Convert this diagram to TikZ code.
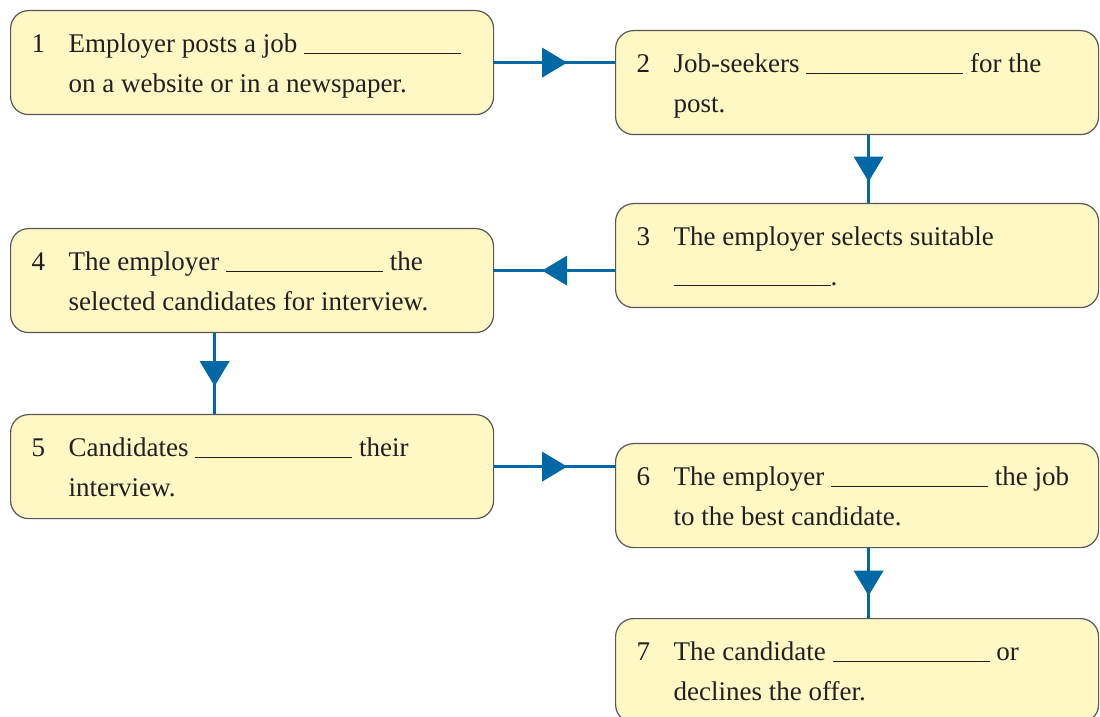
\documentclass[tikz,border=0pt]{standalone}
\usepackage{fontspec}
\setmainfont{Liberation Serif}
\usetikzlibrary{decorations.markings}
\definecolor{jobblue}{RGB}{0,105,165}
\definecolor{jobfill}{RGB}{255,248,196}
\definecolor{jobedge}{RGB}{88,88,88}
\definecolor{jobtext}{RGB}{35,31,32}
\newcommand{\blank}{\rule[-0.6pt]{78.5pt}{0.6pt}}
\newcommand{\stagehead}[2]{\rule{0pt}{21pt}\makebox[29pt][l]{\hspace{10.5pt}#1}#2}
\newcommand{\stagetail}[1]{\hspace*{29pt}#1\rule[-11.25pt]{0pt}{11.25pt}}

\begin{document}
\begin{tikzpicture}[x=0.5pt,y=-0.5pt,
    stage/.style={draw=jobedge,line width=0.6pt,fill=jobfill,rounded corners=9pt,
      anchor=north west,inner xsep=0pt,inner ysep=0pt,text width=241.5pt,
      minimum height=52pt,align=flush left,text=jobtext,
      font=\fontsize{13.5pt}{19.75pt}\selectfont},
    flow/.style={draw=jobblue,line width=1.5pt,postaction={decorate},
      decoration={markings,mark=at position 0.5 with
        {\fill[jobblue] (-6.25pt,-7.5pt) -- (6.25pt,0pt) -- (-6.25pt,7.5pt) -- cycle;}}}]
  \clip (0,0) rectangle (1100,717);
  \fill[white] (0,0) rectangle (1100,717);
  % left column: 1, 4, 5 -- right column: 2, 3, 6, 7
  \node[stage] (s1) at (10,10) {\stagehead{1}{Employer posts a job \blank}\\\stagetail{on a website or in a newspaper.}};
  \node[stage] (s2) at (615,30) {\stagehead{2}{Job-seekers \blank\ for the}\\\stagetail{post.}};
  \node[stage] (s3) at (615,203) {\stagehead{3}{The employer selects suitable}\\\stagetail{\blank.}};
  \node[stage] (s4) at (10,228) {\stagehead{4}{The employer \blank\ the}\\\stagetail{selected candidates for interview.}};
  \node[stage] (s5) at (10,414) {\stagehead{5}{Candidates \blank\ their}\\\stagetail{interview.}};
  \node[stage] (s6) at (615,443) {\stagehead{6}{The employer \blank\ the job}\\\stagetail{to the best candidate.}};
  \node[stage] (s7) at (615,618) {\stagehead{7}{The candidate \blank\ or}\\\stagetail{declines the offer.}};
  \draw[flow] (s1.east) -- (s1.east -| s2.west);
  \draw[flow] ([xshift=5.75pt]s2.south) -- ([xshift=5.75pt]s2.south |- s3.north);
  \draw[flow] ([yshift=-7.5pt]s3.west) -- ([yshift=-7.5pt]s3.west -| s4.east);
  \draw[flow] ([xshift=-18.75pt]s4.south) -- ([xshift=-18.75pt]s4.south |- s5.north);
  \draw[flow] (s5.east) -- (s5.east -| s6.west);
  \draw[flow] ([xshift=5.75pt]s6.south) -- ([xshift=5.75pt]s6.south |- s7.north);
\end{tikzpicture}
\end{document}
